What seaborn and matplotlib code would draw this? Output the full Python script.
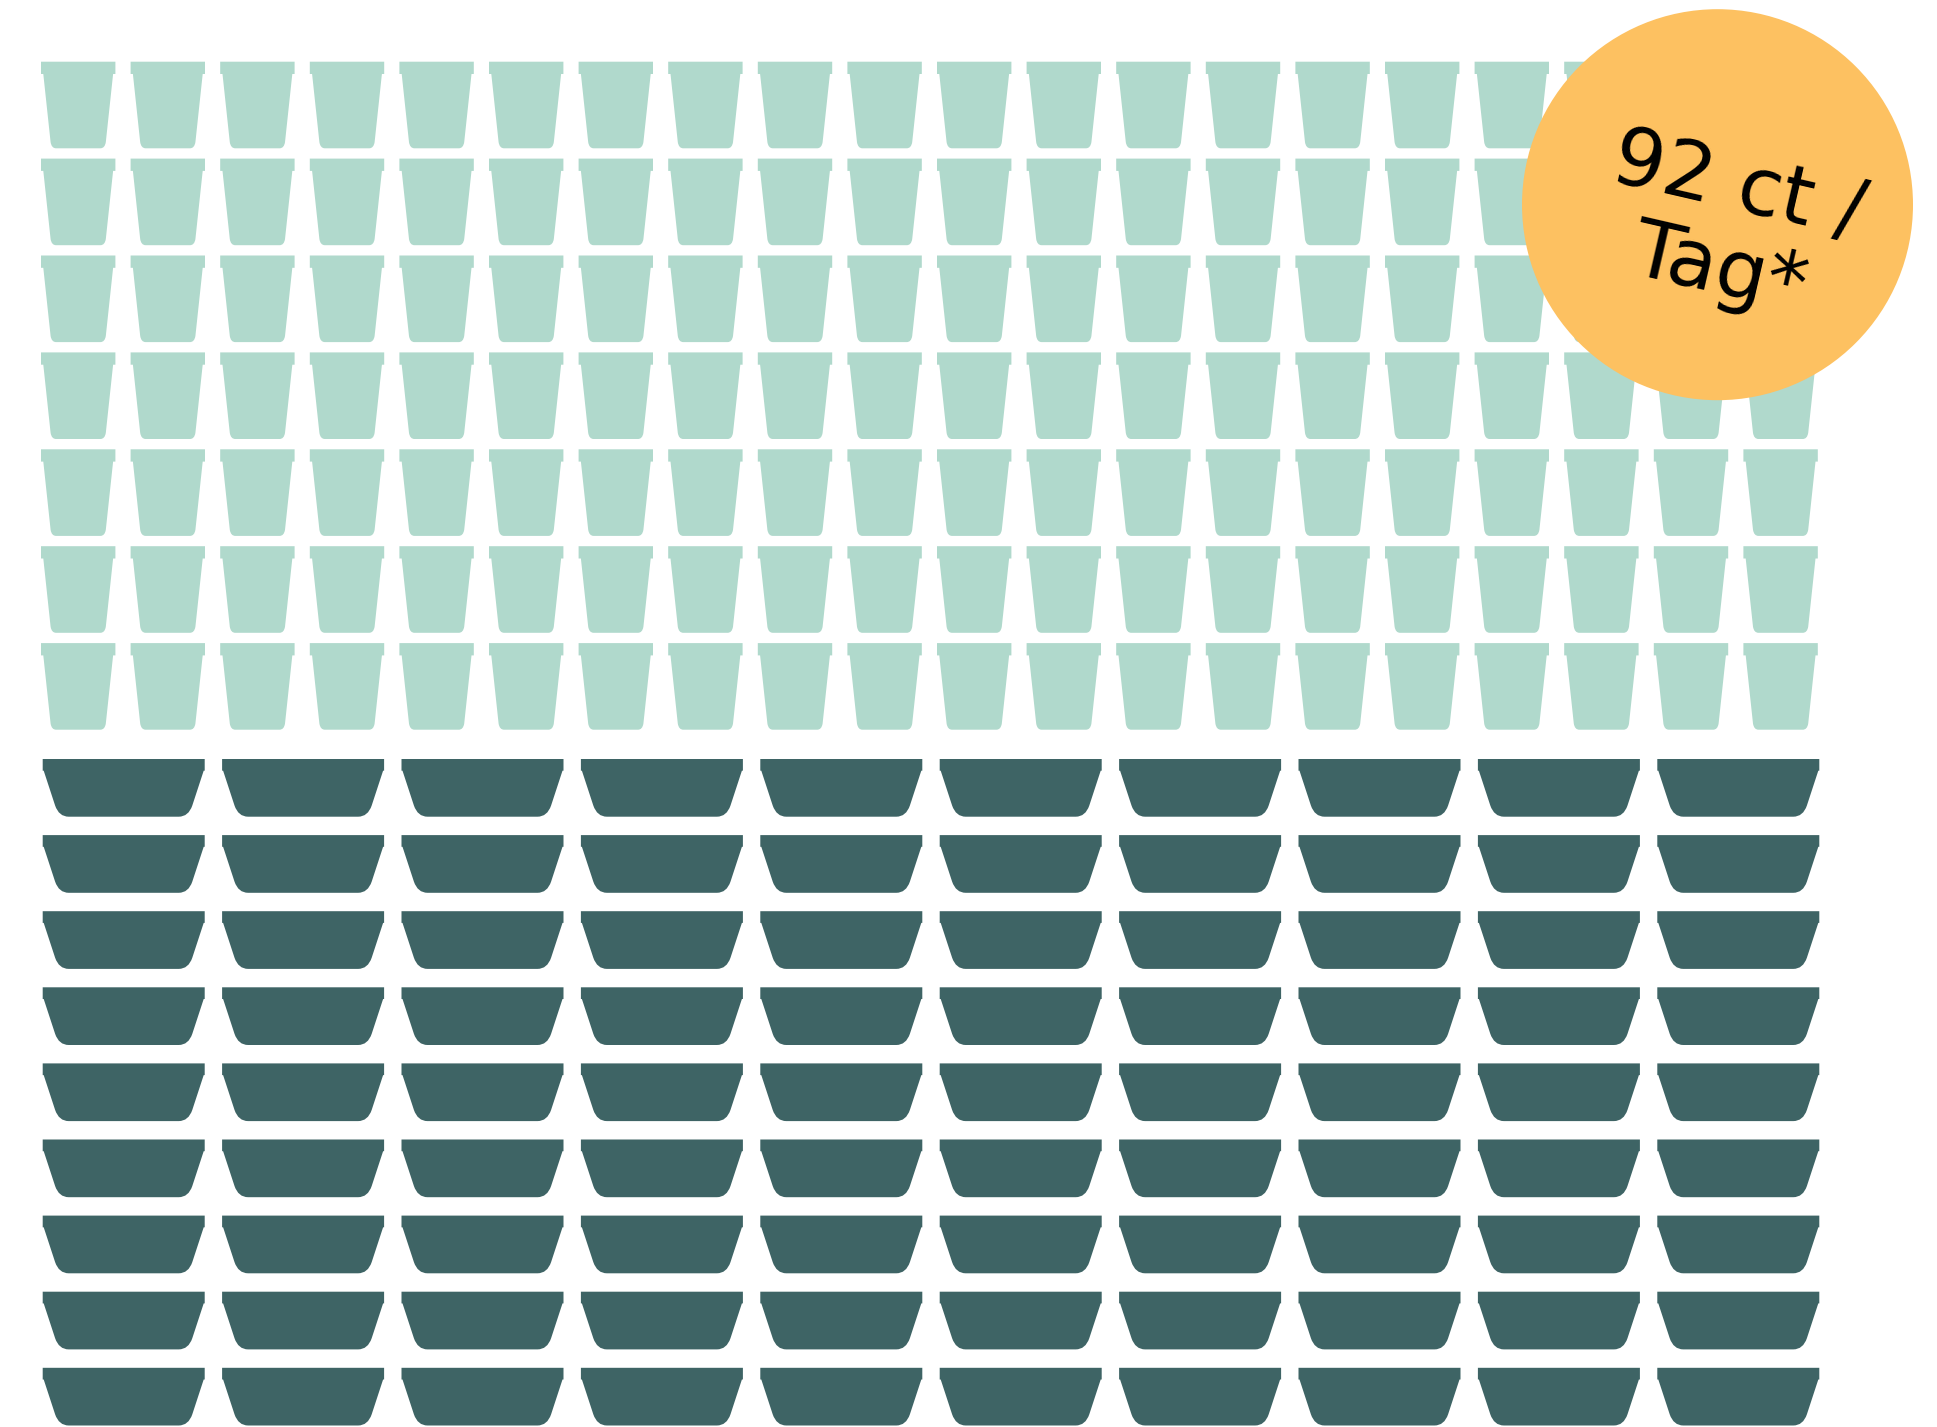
import matplotlib.pyplot as plt
import pandas as pd
import seaborn as sn
from matplotlib.markers import MarkerStyle
from matplotlib.patches import Circle
from matplotlib.path import Path

# pictogram grids, one marker per unit
small_rows = [0, 1, 2, 3, 4, 5, 6]
small_cols = [0, 1, 2, 3, 4, 5, 6, 7, 8, 9, 10, 11, 12, 13, 14, 15, 16, 17, 18, 19]
big_rows = [0, 1, 2, 3, 4, 5, 6, 7, 8]
big_cols = [0, 1, 2, 3, 4, 5, 6, 7, 8, 9]
badge_label = "92 ct /\nTag*"

W, H, DPI = 1937, 1427, 100

def cupPath(w, h, rim, inset, side_x, side_y, ctrl_x, foot_x):
    # outline drawn in pixels from the top left, y flipped for the marker
    pts = [(0, 0), (w, 0), (w, rim), (w - inset, rim),
           (w - side_x, side_y), (w - ctrl_x, h), (w - foot_x, h),
           (foot_x, h), (ctrl_x, h), (side_x, side_y),
           (inset, rim), (0, rim), (0, 0)]
    codes = [Path.MOVETO, Path.LINETO, Path.LINETO, Path.LINETO,
             Path.LINETO, Path.CURVE3, Path.CURVE3,
             Path.LINETO, Path.CURVE3, Path.CURVE3,
             Path.LINETO, Path.LINETO, Path.CLOSEPOLY]
    return Path([(x - w / 2, h / 2 - y) for x, y in pts], codes)

def gridAxes(fig, x0, dx, y0, dy):
    # axes over the whole figure, scaled so that cell 0 lands at x0, y0
    ax = fig.add_axes([0, 0, 1, 1], facecolor="none")
    ax.set_xlim(-x0 / dx, (W - x0) / dx)
    ax.set_ylim((H - y0) / dy, -y0 / dy)
    ax.axis("off")
    return ax

def pictogram(ax, rows, cols, path, size_px, colour):
    df = pd.DataFrame([(c, r) for r in rows for c in cols], columns=["col", "row"])
    s = (size_px * 72 / DPI) ** 2
    sn.scatterplot(data=df, x="col", y="row", ax=ax, marker=MarkerStyle(path), s=s,
                   color=colour, linewidth=0, edgecolor="none", legend=False)
    ax.axis("off")

sn.set_theme(style="white")
plt.rcParams["font.family"] = ["DejaVu Sans"]

fig = plt.figure(figsize=(W / DPI, H / DPI), dpi=DPI, facecolor="white")

small = cupPath(74.4, 86.6, 12.3, 2.3, 9.6, 80.5, 10.6, 15)
big = cupPath(162, 57.7, 11.7, 1, 12.4, 46.5, 16.2, 26)

pictogram(gridAxes(fig, 78.2, 89.6, 105, 96.9), small_rows, small_cols, small, 86.6, "#B0D9CC")
pictogram(gridAxes(fig, 123.7, 179.4, 787.85, 76.1), big_rows, big_cols, big, 162, "#3E6465")

top = fig.add_axes([0, 0, 1, 1], facecolor="none")
top.set_xlim(0, W)
top.set_ylim(H, 0)
top.axis("off")
top.add_patch(Circle((1717.5, 204.7), 195.5, color="#FDC161", linewidth=0))
top.text(1729, 229.5, badge_label, rotation=-13, rotation_mode="anchor", ha="center", va="center",
         fontsize=58, color="black", linespacing=1.12, multialignment="center")

fig.savefig("out.png", dpi=DPI)
